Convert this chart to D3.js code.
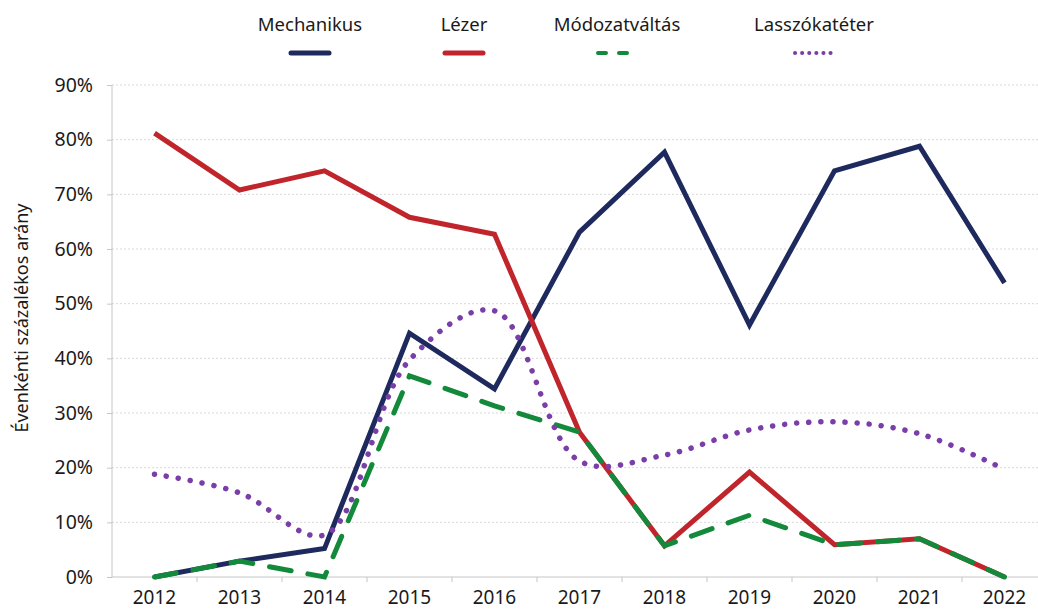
<!DOCTYPE html>
<html>
<head>
<meta charset="utf-8">
<script src="https://cdn.jsdelivr.net/npm/d3@7.9.0/dist/d3.min.js"></script>
<style>
  body { margin: 0; background: #fff; }
  svg { display: block; font-family: "Noto Sans", "Open Sans", sans-serif; }
</style>
</head>
<body>
<svg id="chart" width="1038" height="610"></svg>
<script>
// data (shares, 0..1)
const years = ['2012', '2013', '2014', '2015', '2016', '2017', '2018', '2019', '2020', '2021', '2022'];
const mechanikus = [0, 0.029, 0.052, 0.446, 0.344, 0.631, 0.777, 0.461, 0.743, 0.788, 0.538];
const lezer = [0.812, 0.708, 0.743, 0.658, 0.627, 0.265, 0.057, 0.192, 0.059, 0.070, 0];
const modozatvaltas = [0, 0.029, 0, 0.368, 0.313, 0.265, 0.057, 0.113, 0.059, 0.070, 0];
const lasszokateter = [0.188, 0.154, 0.077, 0.397, 0.487, 0.212, 0.223, 0.269, 0.284, 0.262, 0.197];
const yTicks = [0, 0.1, 0.2, 0.3, 0.4, 0.5, 0.6, 0.7, 0.8, 0.9];

const series = [
  { name: 'Mechanikus', values: mechanikus, color: '#1e2a5e', dash: null, curve: d3.curveLinear },
  { name: 'Lézer', values: lezer, color: '#c1252c', dash: null, curve: d3.curveLinear },
  { name: 'Módozatváltás', values: modozatvaltas, color: '#138a3b', dash: '22 17', curve: d3.curveLinear },
  { name: 'Lasszókatéter', values: lasszokateter, color: '#7a3ea8', dash: '0.1 12', curve: d3.curveCatmullRom.alpha(0.5) }
];

const svg = d3.select('#chart');

const x = d3.scaleBand().domain(years).range([112, 1047]).padding(0);
const y = d3.scaleLinear().domain([0, 0.9]).range([577, 85]);
const cx = (yr) => x(yr) + x.bandwidth() / 2;

// ── gridlines ──
svg.append('g')
  .selectAll('line')
  .data(yTicks.slice(1))
  .join('line')
  .attr('x1', 112).attr('x2', 1038)
  .attr('y1', (d) => y(d)).attr('y2', (d) => y(d))
  .attr('stroke', '#d9d9d9')
  .attr('stroke-width', 1)
  .attr('stroke-dasharray', '2 2');

// ── y axis ──
const yAxis = svg.append('g').attr('transform', 'translate(112,0)')
  .call(d3.axisLeft(y).tickValues(yTicks).tickFormat(d3.format('.0%')).tickSize(5).tickPadding(14));
yAxis.select('.domain').attr('stroke', '#c6c6c6').attr('d', 'M0,85V577');
yAxis.selectAll('.tick line').attr('stroke', '#c6c6c6');
yAxis.selectAll('.tick text').attr('font-size', 19.5).attr('fill', '#1a1a1a')
  .attr('font-family', 'Noto Sans, Open Sans, sans-serif');

// ── x axis ──
const xAxis = svg.append('g').attr('transform', 'translate(0,577)');
xAxis.append('line').attr('x1', 112).attr('x2', 1038).attr('y1', 0).attr('y2', 0).attr('stroke', '#c6c6c6');
xAxis.selectAll('line.tk')
  .data(years.slice(1))
  .join('line')
  .attr('class', 'tk')
  .attr('x1', (d) => x(d)).attr('x2', (d) => x(d))
  .attr('y1', 0).attr('y2', 5)
  .attr('stroke', '#c6c6c6');
xAxis.selectAll('text')
  .data(years)
  .join('text')
  .attr('x', (d) => cx(d))
  .attr('y', 27)
  .attr('text-anchor', 'middle')
  .attr('font-size', 19)
  .attr('fill', '#1a1a1a')
  .text((d) => d);

// y title
svg.append('text')
  .attr('transform', 'translate(28,318) rotate(-90)')
  .attr('text-anchor', 'middle')
  .attr('font-size', 18)
  .attr('fill', '#1a1a1a')
  .text('Évenkénti százalékos arány');

// ── lines ──
series.forEach((s) => {
  const line = d3.line()
    .x((d, i) => cx(years[i]))
    .y((d) => y(d))
    .curve(s.curve);
  svg.append('path')
    .datum(s.values)
    .attr('d', line)
    .attr('fill', 'none')
    .attr('stroke', s.color)
    .attr('stroke-width', s.dash === '0.1 12' ? 5.5 : 5)
    .attr('stroke-linejoin', 'miter')
    .attr('stroke-linecap', s.dash ? 'round' : 'butt')
    .attr('stroke-dasharray', s.dash);
});

// ── legend ──
const legendX = [310, 464, 617, 814];
const legend = svg.append('g');
series.forEach((s, i) => {
  legend.append('text')
    .attr('x', legendX[i]).attr('y', 31)
    .attr('text-anchor', 'middle')
    .attr('font-size', 18.5)
    .attr('fill', '#1a1a1a')
    .text(s.name);
  legend.append('line')
    .attr('x1', legendX[i] - 19).attr('x2', legendX[i] + 19)
    .attr('y1', 53).attr('y2', 53)
    .attr('stroke', s.color)
    .attr('stroke-width', s.dash ? 4 : 5)
    .attr('stroke-linecap', 'round')
    .attr('stroke-dasharray', s.dash === '0.1 12' ? '0.1 7' : s.dash ? '8 13' : null);
});
</script>
</body>
</html>
